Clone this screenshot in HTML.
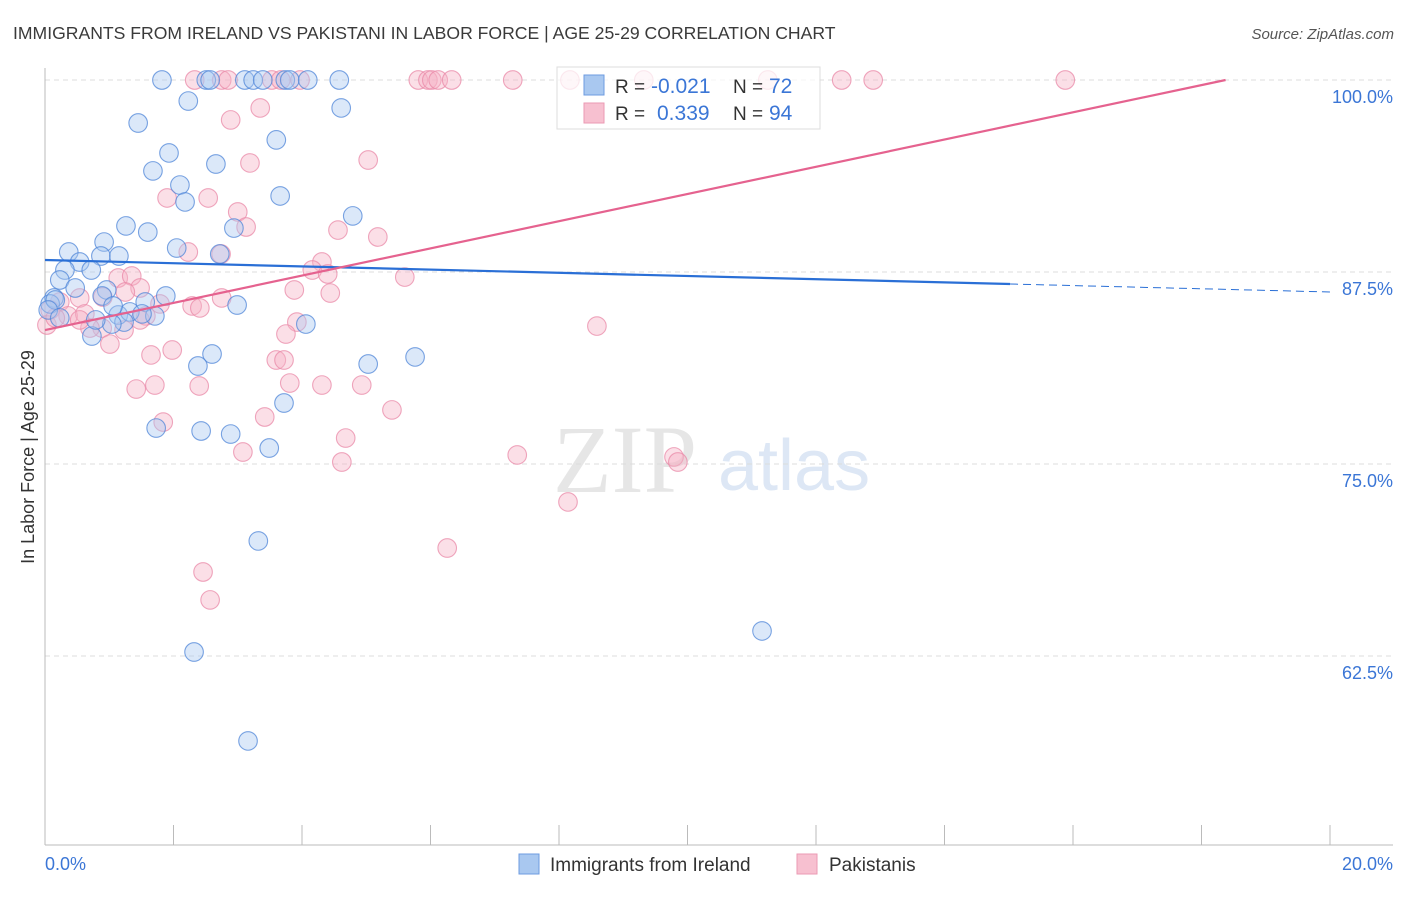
<!DOCTYPE html>
<html><head><meta charset="utf-8">
<style>
html,body{margin:0;padding:0;background:#fff;}
body{width:1406px;height:892px;overflow:hidden;font-family:"Liberation Sans",sans-serif;}
</style></head>
<body>
<svg id="chart" width="1406" height="892" viewBox="0 0 1406 892" xmlns="http://www.w3.org/2000/svg" font-family="Liberation Sans, sans-serif">
<text x="13" y="39" font-size="17.6" fill="#3a3a3a">IMMIGRANTS FROM IRELAND VS PAKISTANI IN LABOR FORCE | AGE 25-29 CORRELATION CHART</text>
<text x="1394" y="39" font-size="15" fill="#555" text-anchor="end" font-style="italic">Source: ZipAtlas.com</text>
<g>
<text x="553" y="492" font-size="96" fill="#e6e6e6" font-family="Liberation Serif, serif">ZIP</text>
<text x="718" y="490" font-size="72" fill="#dde7f5">atlas</text>
</g>
<g id="grid"></g>
<g id="axes"></g>
<g id="pts"></g>
<g id="lines"></g>
<text transform="translate(34,457) rotate(-90)" font-size="18" fill="#333" text-anchor="middle">In Labor Force | Age 25-29</text>
<g>
<rect x="557" y="67" width="263" height="62" fill="#fff" fill-opacity="0.75" stroke="#ddd"/>
<rect x="584" y="75" width="20" height="20" fill="#a9c8f0" stroke="#6d9be0"/>
<rect x="584" y="103" width="20" height="20" fill="#f7c0d0" stroke="#eb9ab3"/>
<text x="615" y="93" font-size="19" fill="#333">R =</text>
<text x="651" y="93" font-size="21" fill="#3b76d6">-0.021</text>
<text x="733" y="93" font-size="19" fill="#333">N =</text>
<text x="769" y="93" font-size="21" fill="#3b76d6">72</text>
<text x="615" y="120" font-size="19" fill="#333">R =</text>
<text x="657" y="120" font-size="21" fill="#3b76d6">0.339</text>
<text x="733" y="120" font-size="19" fill="#333">N =</text>
<text x="769" y="120" font-size="21" fill="#3b76d6">94</text>
</g>
<g>
<rect x="519" y="854" width="20" height="20" fill="#a9c8f0" stroke="#6d9be0"/>
<text x="550" y="871" font-size="19" fill="#333">Immigrants from Ireland</text>
<rect x="797" y="854" width="20" height="20" fill="#f7c0d0" stroke="#eb9ab3"/>
<text x="829" y="871" font-size="19" fill="#333">Pakistanis</text>
</g>
</svg>
<script>
const blueX=[1.82,2.51,2.57,3.11,3.24,3.39,3.74,3.81,4.09,4.58,2.23,4.61,1.45,3.6,1.93,2.66,1.68,2.1,2.18,3.66,4.79,1.26,1.6,2.94,0.92,2.05,0.37,0.87,1.15,2.72,0.54,0.31,0.72,0.23,0.47,0.96,0.14,0.89,1.88,1.56,0.08,2.99,1.14,1.71,1.32,1.51,0.73,1.23,1.04,4.06,2.6,2.38,5.03,5.76,3.72,1.73,2.43,2.89,3.49,3.32,11.16,2.32,3.16,0.16,0.05,0.23,1.06,0.79];
const blueY=[100,100,100,100,100,100,100,100,100,100,98.63,98.18,97.2,96.1,95.25,94.53,94.08,93.16,92.06,92.45,91.15,90.5,90.1,90.36,89.45,89.06,88.8,88.54,88.54,88.67,88.15,87.63,87.63,86.98,86.46,86.33,85.81,85.94,85.94,85.55,85.42,85.35,84.7,84.64,84.9,84.77,83.33,84.24,84.11,84.11,82.16,81.38,81.51,81.97,78.97,77.34,77.15,76.95,76.04,69.99,64.13,62.76,56.97,85.68,85.03,84.51,85.29,84.38];
const pinkX=[2.33,2.75,2.85,3.53,3.67,3.97,5.81,5.96,6.02,6.12,6.33,7.28,8.17,9.32,11.25,12.4,12.89,15.88,3.35,2.89,3.19,5.03,2.54,1.9,3.0,3.13,4.56,5.18,2.23,2.74,4.31,4.16,4.4,5.6,1.14,1.35,3.88,1.48,4.44,0.9,0.54,0.23,1.25,1.79,2.29,2.41,2.75,0.08,0.36,0.62,3.92,0.89,1.23,0.7,8.59,1.57,3.75,1.01,1.98,1.65,3.6,3.72,2.4,1.71,1.42,3.81,4.31,4.93,5.4,3.42,1.84,4.68,3.08,4.62,7.35,9.79,9.85,8.14,6.26,2.46,2.57,0.03,0.16,0.54,1.48];
const pinkY=[100,100,100,100,100,100,100,100,100,100,100,100,100,100,100,100,100,100,98.18,97.4,94.6,94.79,92.32,92.32,91.41,90.43,90.23,89.78,88.8,88.67,88.15,87.63,87.37,87.17,87.11,87.24,86.33,86.46,86.13,85.87,85.81,85.55,86.2,85.42,85.29,85.16,85.81,85.03,84.64,84.77,84.24,83.85,83.72,83.85,83.98,84.64,83.46,82.81,82.42,82.1,81.77,81.77,80.08,80.14,79.88,80.27,80.14,80.14,78.52,78.06,77.73,76.69,75.78,75.13,75.59,75.46,75.13,72.53,69.53,67.97,66.15,84.05,84.51,84.38,84.38];
const yTicks=[100,87.5,75,62.5];
const yTickLabels=["100.0%","87.5%","75.0%","62.5%"];
const xTicks=[0,2,4,6,8,10,12,14,16,18,20];
const xEndLabels=["0.0%","20.0%"];
const blueTrend=[88.28,-0.104,15.02];
const pinkTrend=[83.72,0.886];

const NS="http://www.w3.org/2000/svg";
const sx=v=>45+v*64.25;
const sy=v=>80+(100-v)*15.36;
function mk(tag,attrs,parent){const e=document.createElementNS(NS,tag);for(const k in attrs)e.setAttribute(k,attrs[k]);parent.appendChild(e);return e;}
const grid=document.getElementById('grid'),axes=document.getElementById('axes'),pts=document.getElementById('pts'),lines=document.getElementById('lines');
yTicks.forEach((t,i)=>{
  const g=mk('line',{x1:45,x2:1393,y1:sy(t),y2:sy(t),stroke:'#dcdcdc','stroke-dasharray':'5,4'},grid);
  
  
  const l=mk('text',{x:1393,y:sy(t)+23,'font-size':18,fill:'#3b76d6','text-anchor':'end'},axes);
  l.textContent=yTickLabels[i];
  
  
});
const ax=mk('line',{x1:45,x2:1393,y1:845,y2:845,stroke:'#bbb'},axes);


const ay=mk('line',{x1:45,x2:45,y1:68,y2:845,stroke:'#bbb'},axes);


xTicks.forEach(t=>{
  const tk=mk('line',{x1:sx(t),x2:sx(t),y1:825,y2:845,stroke:'#bbb'},axes);
  
  
});
const xl0=mk('text',{x:45,y:870,'font-size':18,fill:'#3b76d6'},axes);xl0.textContent=xEndLabels[0];


const xl1=mk('text',{x:1393,y:870,'font-size':18,fill:'#3b76d6','text-anchor':'end'},axes);xl1.textContent=xEndLabels[1];


function dots(X,Y,fill,stroke,name){X.forEach((x,i)=>{
  const c=mk('circle',{cx:sx(x),cy:sy(Y[i]),r:9.3,fill:fill,'fill-opacity':0.42,stroke:stroke,'stroke-opacity':0.75,'stroke-width':1.1},pts);
  
  
});}
dots(pinkX,pinkY,'#f5b3c6','#e98aa8','pakistani-point');
dots(blueX,blueY,'#a9c8f0','#4f86d8','ireland-point');
const bx=blueTrend[2];
const bl=mk('line',{x1:sx(0),y1:sy(blueTrend[0]),x2:sx(bx),y2:sy(blueTrend[0]+blueTrend[1]*bx),stroke:'#2a6fd6','stroke-width':2.2},lines);


const bd=mk('line',{x1:sx(bx),y1:sy(blueTrend[0]+blueTrend[1]*bx),x2:sx(20),y2:sy(blueTrend[0]+blueTrend[1]*20),stroke:'#2a6fd6','stroke-width':1,'stroke-dasharray':'8,5'},lines);


const pEnd=(100-pinkTrend[0])/pinkTrend[1];
const pl=mk('line',{x1:sx(0),y1:sy(pinkTrend[0]),x2:sx(pEnd),y2:sy(100),stroke:'#e5628f','stroke-width':2.2},lines);


</script>
</body></html>
